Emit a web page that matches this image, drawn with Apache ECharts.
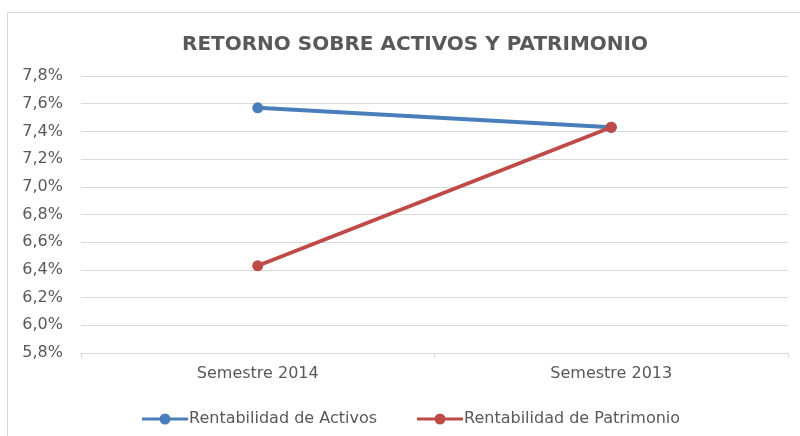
<!DOCTYPE html>
<html lang="es">
<head>
    <meta charset="utf-8">
    <title>Retorno sobre activos y patrimonio</title>
    <script src="https://cdn.jsdelivr.net/npm/echarts@6/dist/echarts.min.js"></script>
    <style>
        html, body { margin: 0; padding: 0; background: #fff; }
        #frame {
            position: absolute; left: 7px; top: 12px; width: 820px; height: 450px;
            border: 1px solid #d9d9d9; box-sizing: border-box;
        }
        #chart { position: absolute; left: 0; top: 0; width: 800px; height: 436px; }
    </style>
</head>
<body>
<div id="frame"></div>
<div id="chart"></div>
<script type="text/javascript">
    // data (percent)
    var categories = ['Semestre 2014', 'Semestre 2013'];
    var activos = [7.57, 7.43];
    var patrimonio = [6.43, 7.43];
    var seriesNames = ['Rentabilidad de Activos', 'Rentabilidad de Patrimonio'];
    var colors = ['#4a7ebb', '#be4b48'];

    var chart = echarts.init(document.getElementById('chart'));
    var labelFont = '"DejaVu Sans", sans-serif';

    function makeSeries(name, data, color) {
        return {
            name: name,
            type: 'line',
            data: data,
            symbol: 'circle',
            symbolSize: 11,
            lineStyle: { width: 4, color: color },
            itemStyle: { color: color },
            z: name === seriesNames[1] ? 3 : 2
        };
    }

    chart.setOption({
        animation: false,
        color: colors,
        title: {
            text: 'RETORNO SOBRE ACTIVOS Y PATRIMONIO',
            left: 410,
            textAlign: 'center',
            top: 30,
            textStyle: {
                fontFamily: '"DejaVu Sans", sans-serif',
                fontWeight: 'bold',
                fontSize: 20,
                color: '#595959'
            }
        },
        legend: {
            top: 406,
            left: 137,
            itemGap: 40,
            itemWidth: 46,
            itemHeight: 12,
            icon: 'path://M0,4.5 L46,4.5 L46,7.5 L0,7.5 Z M17.5,6 A5.5,5.5 0 1 1 28.5,6 A5.5,5.5 0 1 1 17.5,6 Z M23,0 L23,0.01 Z M23,12 L23,11.99 Z',
            textStyle: { fontFamily: labelFont, fontSize: 16, color: '#595959', padding: [0, 0, 0, -4] },
            data: seriesNames
        },
        grid: { left: 81, right: 12, top: 76, bottom: 83 },
        xAxis: {
            type: 'category',
            data: categories,
            boundaryGap: true,
            axisLine: { lineStyle: { color: '#d9d9d9', width: 1 } },
            axisTick: { show: true, length: 5, lineStyle: { color: '#d9d9d9' } },
            axisLabel: { fontFamily: labelFont, fontSize: 16, color: '#595959', margin: 13 }
        },
        yAxis: {
            type: 'value',
            min: 5.8,
            max: 7.8,
            interval: 0.2,
            axisLine: { show: false },
            axisTick: { show: false },
            splitLine: { lineStyle: { color: '#d9d9d9', width: 1 } },
            axisLabel: {
                fontFamily: labelFont, fontSize: 16, color: '#595959', margin: 18,
                formatter: function (v) { return v.toFixed(1).replace('.', ',') + '%'; }
            }
        },
        series: [
            makeSeries(seriesNames[0], activos, colors[0]),
            makeSeries(seriesNames[1], patrimonio, colors[1])
        ]
    });
</script>
</body>
</html>
